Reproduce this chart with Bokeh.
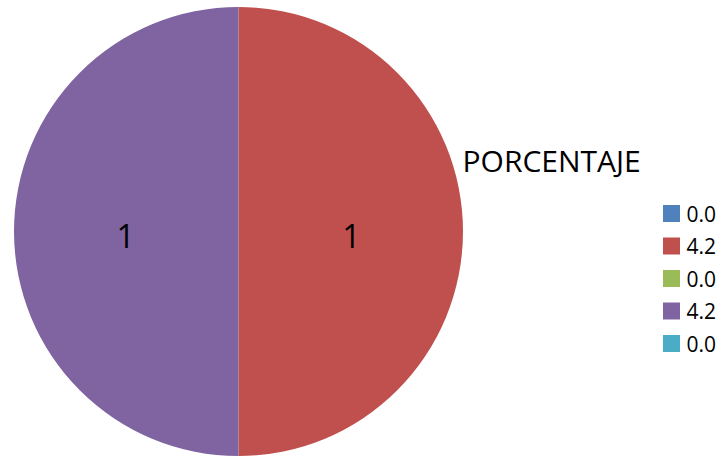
import math
from bokeh.plotting import figure
from bokeh.models import Range1d, ColumnDataSource
from bokeh.core.properties import value
from bokeh.embed import file_html
from bokeh.resources import INLINE

# ---- data ----
categories = ["0.0", "4.2", "0.0", "4.2", "0.0"]
counts = [0, 1, 0, 1, 0]
colors = ["#4F81BD", "#C0504D", "#9BBB59", "#8064A2", "#4BACC6"]
title_text = "PORCENTAJE"

W, H = 725, 460
FONT = "Open Sans"

def fx(px):
    return px

def fy(py):
    return H - py

p = figure(width=W, height=H, output_backend="svg", toolbar_location=None,
           x_range=Range1d(0, W), y_range=Range1d(0, H), min_border=0)
p.axis.visible = False
p.grid.visible = False
p.outline_line_color = None
p.background_fill_color = "white"

cx, cy, r = fx(238), fy(231), 224.5
total = sum(counts)
starts, ends, mids, wcol = [], [], [], []
lx, ly, lt = [], [], []
cum = 0
for c, col in zip(counts, colors):
    a0 = math.pi / 2 - cum / total * 2 * math.pi
    cum += c
    a1 = math.pi / 2 - cum / total * 2 * math.pi
    if c > 0:
        starts.append(a0)
        ends.append(a1)
        wcol.append(col)
        m = (a0 + a1) / 2
        lx.append(cx + r * 0.503 * math.cos(m))
        ly.append(cy + r * 0.503 * math.sin(m) - 4)
        lt.append(str(c))

src = ColumnDataSource(dict(start=starts, end=ends, color=wcol))
p.wedge(x=cx, y=cy, radius=r, start_angle="start", end_angle="end",
        direction="clock", fill_color="color", line_color=None, source=src)

# data labels
p.text(x=lx, y=ly, text=lt, text_font=value(FONT), text_font_size="32px",
       text_color="#000000", text_align="center", text_baseline="middle")

# title
p.text(x=[fx(462)], y=[fy(160)], text=[title_text], text_font=value(FONT),
       text_font_size="30px", text_color="#000000", text_align="left",
       text_baseline="middle")

# legend
row_y = [fy(213 + 32.5 * i) for i in range(len(categories))]
p.rect(x=[fx(671)] * len(categories), y=row_y, width=17, height=17,
       fill_color=colors, line_color=None)
p.text(x=[fx(686)] * len(categories), y=row_y, text=categories,
       text_font=value(FONT), text_font_size="21px", text_color="#000000",
       text_align="left", text_baseline="middle")

open("out.html", "w").write(file_html(p, INLINE))
